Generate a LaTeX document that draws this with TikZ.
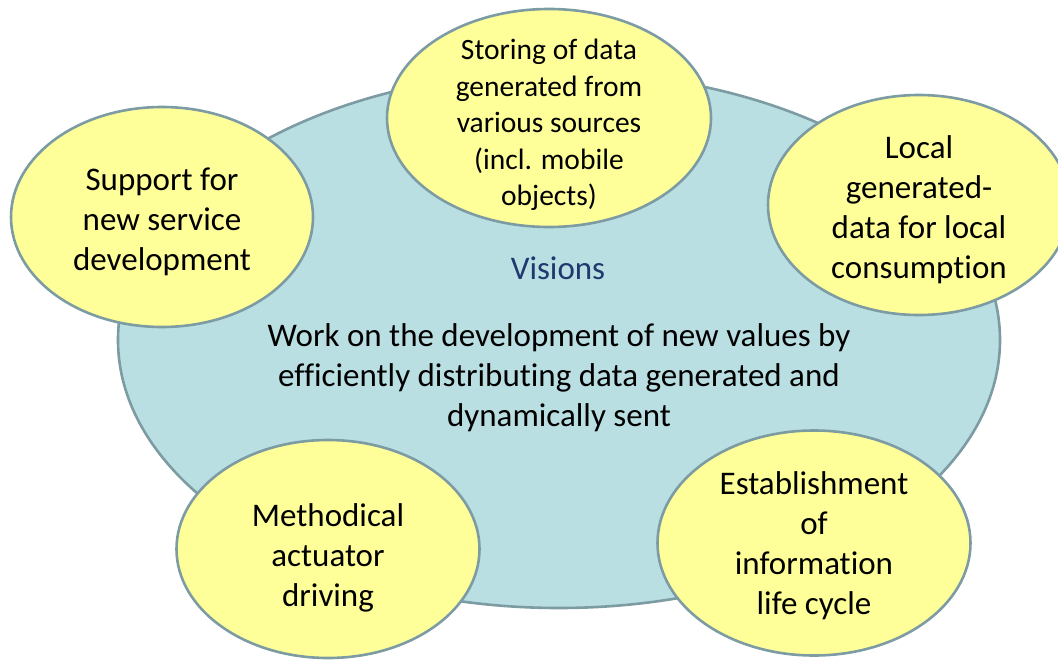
\documentclass[tikz,border=0pt]{standalone}
\usepackage{fontspec}
\setmainfont{Carlito}[Ligatures={NoCommon}]
\usetikzlibrary{shapes.geometric}
\definecolor{bigfill}{RGB}{185,223,227}
\definecolor{edgecol}{RGB}{125,155,163}
\definecolor{yfill}{RGB}{255,255,153}
\definecolor{navy}{RGB}{31,56,110}
\begin{document}
\begin{tikzpicture}[x=1pt,y=-1pt,
  base/.style={ellipse, draw=edgecol, line width=2.6pt, inner sep=0pt},
  bigell/.style={base, fill=bigfill},
  bub/.style={base, fill=yfill},
  bubtext/.style={align=center, text=black, inner sep=0pt, font=\fontsize{33}{40}\selectfont},
  bubtextsmall/.style={bubtext, font=\fontsize{29.5}{36.5}\selectfont}]
\useasboundingbox (0,0) rectangle (1058,661);
\node[bigell, minimum width=882pt, minimum height=536pt] (vision) at (559,340) {};
\node[text=navy, font=\fontsize{33}{40}\selectfont] (vtitle) at (558,268) {Visions};
\node[bubtext] (vtext) at (559,378)
  {Work on the development of new values by\\efficiently distributing data generated and\\dynamically sent};
\node[bub, minimum width=324pt, minimum height=218pt] (store) at (549,118) {};
\node[bubtextsmall] (storetext) at ([yshift=-7pt]store.center)
  {Storing of data\\generated from\\various sources\\(incl. mobile\\objects)};
\node[bub, minimum width=302pt, minimum height=220pt] (support) at (162,217) {};
\node[bubtext] (supporttext) at ([yshift=-5pt]support.center)
  {Support for\\new service\\development};
\node[bub, minimum width=302pt, minimum height=220pt] (local) at (919,205) {};
\node[bubtext] (localtext) at ([yshift=-5pt]local.center)
  {Local\\generated-\\data for local\\consumption};
\node[bub, minimum width=303pt, minimum height=218pt] (method) at (328,549) {};
\node[bubtext] (methodtext) at ([yshift=-9pt]method.center)
  {Methodical\\actuator\\driving};
\node[bub, minimum width=313pt, minimum height=225pt] (estab) at (814,543) {};
\node[bubtext] (estabtext) at ([yshift=-3pt]estab.center)
  {Establishment\\of\\information\\life cycle};
\end{tikzpicture}
\end{document}
